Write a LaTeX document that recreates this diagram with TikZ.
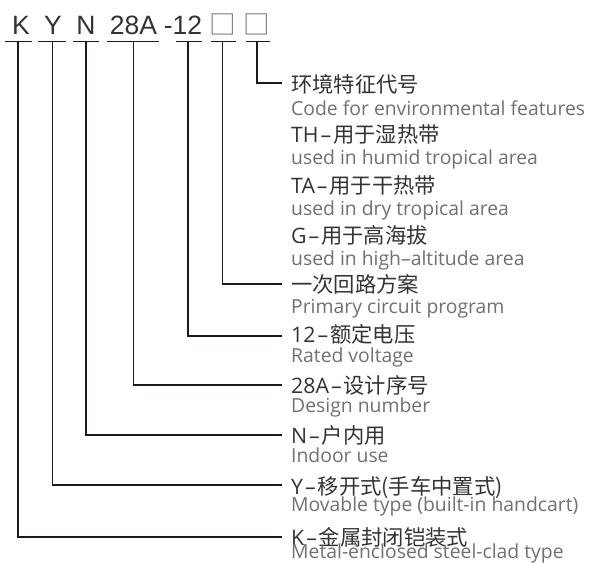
\documentclass[tikz,border=0pt]{standalone}
\usepackage{fontspec}
\setmainfont{Liberation Sans}
\newfontfamily\cjk{Noto Sans CJK SC}
\newfontfamily\osans{Open Sans}
\newcommand\dsh{\kern2pt–\kern2pt}
\newcommand\pre[1]{{\osans #1\dsh}}
\definecolor{linec}{HTML}{231816}
\definecolor{cntext}{HTML}{333333}
\definecolor{entext}{HTML}{707070}
\begin{document}
\begin{tikzpicture}[x=1pt,y=-1pt,
  cn/.style={anchor=base west, inner sep=0pt, text=cntext, font=\cjk\fontsize{21.3}{21.3}\selectfont},
  en/.style={anchor=base west, inner sep=0pt, text=entext, font=\osans\fontsize{19.35}{19.35}\selectfont},
  code/.style={anchor=base, inner sep=0pt, text=cntext, font=\fontsize{26.5}{26.5}\selectfont},
  boxch/.style={anchor=base, inner sep=0pt, text=cntext!70, font=\cjk\fontsize{26.5}{26.5}\selectfont},
  conn/.style={draw=linec, line width=1.2pt},
]
\useasboundingbox (0,0) rectangle (591,562);
% code letters
\node[code] (tk)  at (21,34)    {K};
\node[code] (ty)  at (53,34)    {Y};
\node[code] (tn)  at (86,34)    {N};
\node[code] (t28) at (133.5,34) {28A};
\node[code] (t12) at (183,34)   {-12};
\node[boxch] (tb1) at (222.5,34) {□};
\node[boxch] (tb2) at (257,34)   {□};
% underline coordinates
\coordinate (ukL) at (5,41.5);    \coordinate (uk) at (18,41.5);    \coordinate (ukR) at (32,41.5);
\coordinate (uyL) at (38,41.5);   \coordinate (uy) at (52.5,41.5);  \coordinate (uyR) at (66,41.5);
\coordinate (unL) at (73,41.5);   \coordinate (un) at (86,41.5);    \coordinate (unR) at (99,41.5);
\coordinate (u28L) at (107,41.5); \coordinate (u28) at (133.5,41.5);\coordinate (u28R) at (159,41.5);
\coordinate (u12L) at (176,41.5); \coordinate (u12) at (188,41.5);  \coordinate (u12R) at (202,41.5);
\coordinate (ub1L) at (211,41.5); \coordinate (ub1) at (222.5,41.5);\coordinate (ub1R) at (236,41.5);
\coordinate (ub2L) at (246,41.5); \coordinate (ub2) at (257,41.5);  \coordinate (ub2R) at (270,41.5);
\foreach \u in {k,y,n,28,12,b1,b2}{\draw[conn] (u\u L) -- (u\u R);}
% line ends
\coordinate (eb2) at (282,83);
\coordinate (eb1) at (282,284);
\coordinate (e12) at (282,336);
\coordinate (e28) at (282,385);
\coordinate (en) at (282,435);
\coordinate (ey) at (282,485);
\coordinate (ek) at (282,537);
% labels
\node[cn] (lb2) at (291,92)  {环境特征代号};
\node[en] (lb2e) at (291,115) {Code for environmental features};
\node[cn] (lth) at (291,142) {\pre{TH}用于湿热带};
\node[en] (lthe) at (291,164) {used in humid tropical area};
\node[cn] (lta) at (291,193) {\pre{TA}用于干热带};
\node[en] (ltae) at (291,215) {used in dry tropical area};
\node[cn] (lg) at (291,243)  {\pre{G}用于高海拔};
\node[en] (lge) at (291,265) {used in high–altitude area};
\node[cn] (lb1) at (291,292) {一次回路方案};
\node[en] (lb1e) at (291,313.5) {Primary circuit program};
\node[cn] (l12) at (291,342) {\pre{12}额定电压};
\node[en] (l12e) at (291,362) {Rated voltage};
\node[cn] (l28) at (291,393) {\pre{28A}设计序号};
\node[en] (l28e) at (291,412.5) {Design number};
\node[cn] (ln) at (291,443)  {\pre{N}户内用};
\node[en] (lne) at (291,462) {Indoor use};
\node[cn] (ly) at (291,494)  {\pre{Y}移开式(手车中置式)};
\node[en] (lye) at (291,511.5) {Movable type (built-in handcart)};
\node[cn] (lk) at (291,545)  {\pre{K}金属封闭铠装式};
\node[en] (lke) at (291,558) {Metal-enclosed steel-clad type};
% connectors
\draw[conn] (ub2) |- (eb2);
\draw[conn] (ub1) |- (eb1);
\draw[conn] (u12) |- (e12);
\draw[conn] (u28) |- (e28);
\draw[conn] (un) |- (en);
\draw[conn] (uy) |- (ey);
\draw[conn] (uk) |- (ek);
\end{tikzpicture}
\end{document}
